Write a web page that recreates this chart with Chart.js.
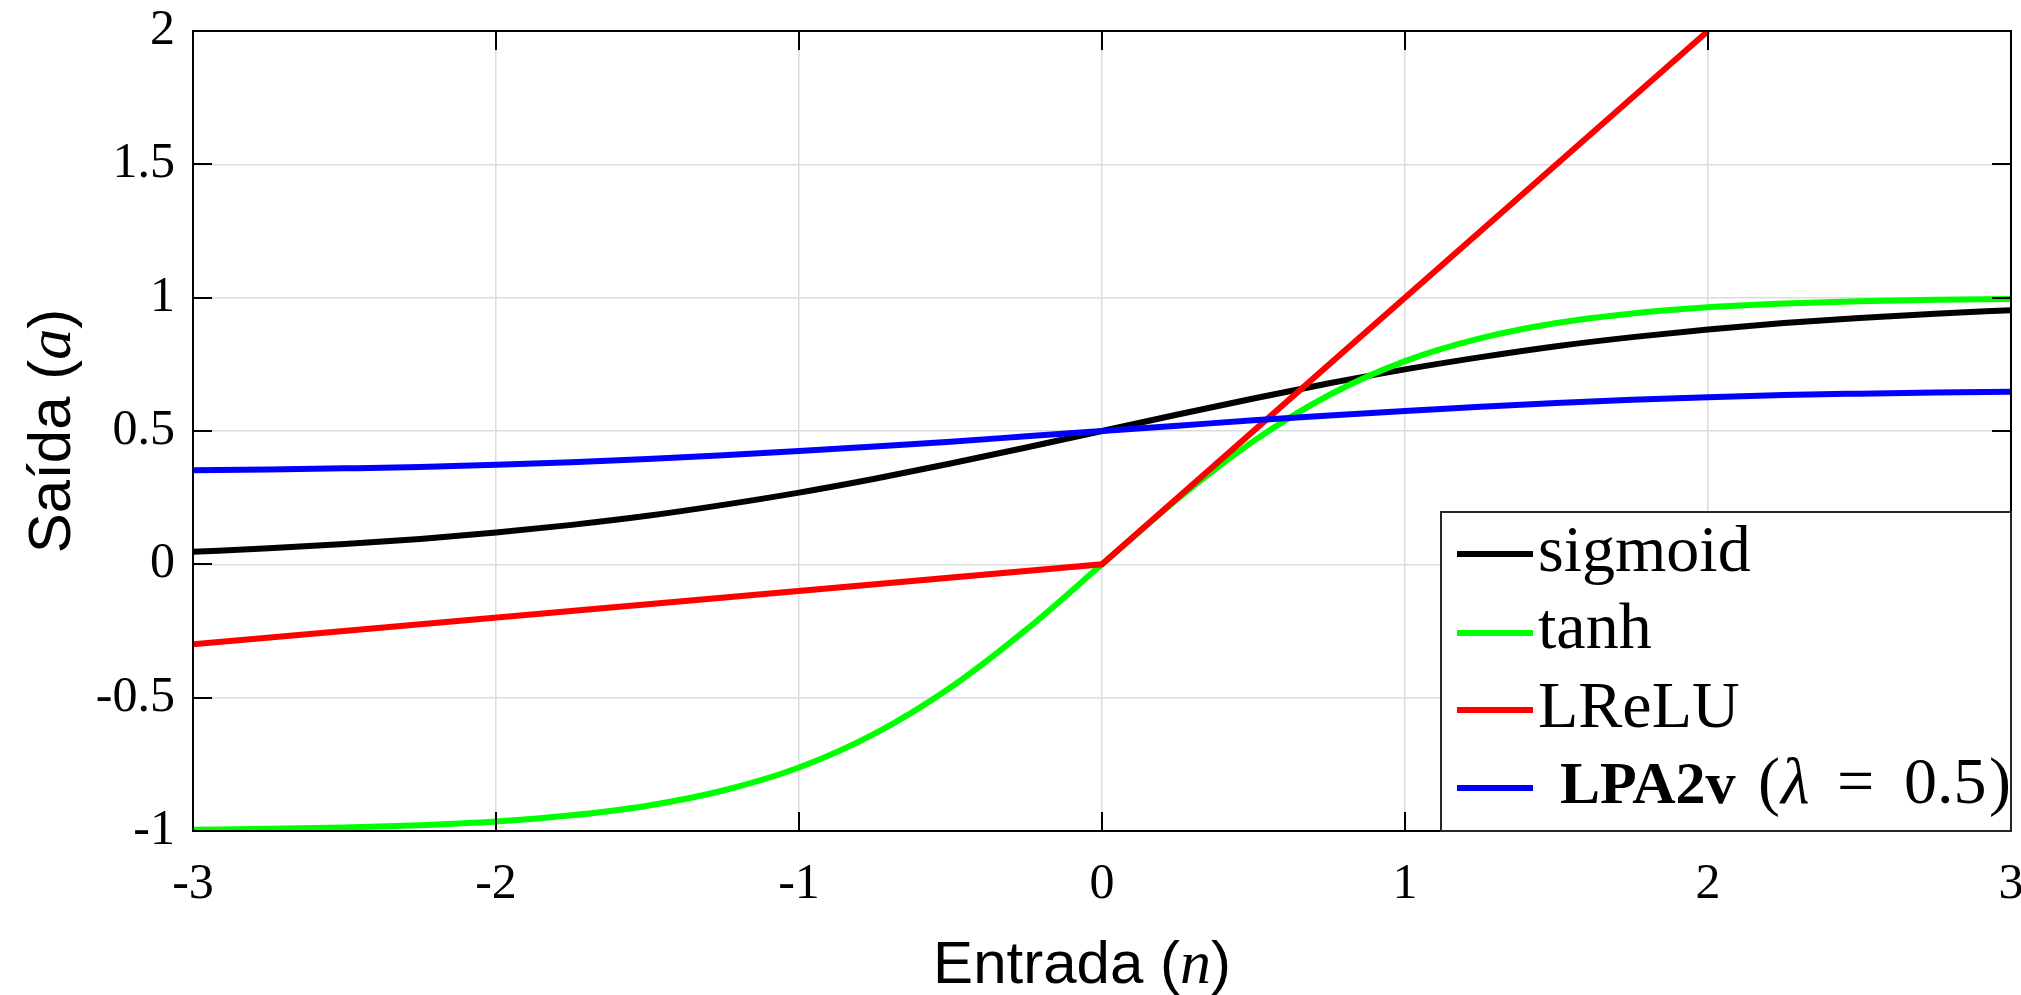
<!DOCTYPE html>
<html>
<head>
<meta charset="utf-8">
<script src="https://cdn.jsdelivr.net/npm/chart.js@4.4.1/dist/chart.umd.min.js"></script>
<style>
  html, body { margin: 0; padding: 0; background: #fff; }
  #wrap { width: 2021px; height: 995px; position: relative; }
</style>
</head>
<body>
<div id="wrap"><canvas id="chart"></canvas></div>
<script>
// input values n
const nValues = [-3, -2.75, -2.5, -2.25, -2, -1.75, -1.5, -1.25, -1, -0.75, -0.5, -0.25, 0,
  0.25, 0.5, 0.75, 1, 1.25, 1.5, 1.75, 2, 2.25, 2.5, 2.75, 3];

// outputs
const sigmoidValues = [0.047, 0.060, 0.076, 0.095, 0.119, 0.148, 0.182, 0.223, 0.269, 0.321, 0.378, 0.438, 0.500,
  0.562, 0.622, 0.679, 0.731, 0.777, 0.818, 0.852, 0.881, 0.905, 0.924, 0.940, 0.953];
const tanhValues = [-0.995, -0.992, -0.987, -0.978, -0.964, -0.941, -0.905, -0.848, -0.762, -0.635, -0.462, -0.245, 0,
  0.245, 0.462, 0.635, 0.762, 0.848, 0.905, 0.941, 0.964, 0.978, 0.987, 0.992, 0.995];
const lpaValues = [0.353, 0.356, 0.360, 0.365, 0.373, 0.383, 0.395, 0.409, 0.425, 0.442, 0.460, 0.480, 0.500,
  0.520, 0.540, 0.558, 0.575, 0.591, 0.605, 0.617, 0.627, 0.635, 0.640, 0.644, 0.647];

// LReLU is piecewise linear: only its corners
const lreluN = [-3, 0, 2];
const lreluValues = [-0.3, 0, 2];

const xTicks = [-3, -2, -1, 0, 1, 2, 3];
const yTicks = [-1, -0.5, 0, 0.5, 1, 1.5, 2];

const seriesNames = ['sigmoid', 'tanh', 'LReLU', 'LPA2v'];
const seriesColors = ['#000000', '#00ff00', '#ff0000', '#0000ff'];

const toPoints = (xs, ys) => xs.map((v, i) => ({ x: v, y: ys[i] }));

const SERIF = '"Liberation Serif", "Times New Roman", serif';
const SANS = '"Liberation Sans", Arial, sans-serif';

// MATLAB-like box, inward ticks, legend and mixed-font axis labels
const figureDecor = {
  id: 'figureDecor',
  afterDatasetsDraw(chart) {
    const { ctx, chartArea: a, scales: { x, y } } = chart;
    ctx.save();

    // inward tick marks
    ctx.strokeStyle = '#000';
    ctx.lineWidth = 2;
    ctx.beginPath();
    xTicks.forEach(v => {
      const px = Math.round(x.getPixelForValue(v));
      ctx.moveTo(px, a.bottom); ctx.lineTo(px, a.bottom - 19);
      ctx.moveTo(px, a.top); ctx.lineTo(px, a.top + 19);
    });
    yTicks.forEach(v => {
      const py = Math.round(y.getPixelForValue(v));
      ctx.moveTo(a.left, py); ctx.lineTo(a.left + 19, py);
      ctx.moveTo(a.right, py); ctx.lineTo(a.right - 19, py);
    });
    ctx.stroke();
    ctx.strokeRect(a.left, a.top, a.right - a.left, a.bottom - a.top);

    // legend box in the lower right corner
    const bw = 570, bh = 319;
    const bx = a.right - bw, by = a.bottom - bh;
    ctx.fillStyle = '#fff';
    ctx.fillRect(bx, by, bw, bh);
    ctx.strokeStyle = '#262626';
    ctx.lineWidth = 2;
    ctx.strokeRect(bx, by, bw, bh);

    const lineY = [42, 121, 198, 276];
    const textY = [59, 136, 215, 291];
    ctx.lineWidth = 6;
    ctx.textBaseline = 'alphabetic';
    ctx.textAlign = 'left';
    seriesNames.forEach((name, i) => {
      ctx.strokeStyle = seriesColors[i];
      ctx.beginPath();
      ctx.moveTo(bx + 16, by + lineY[i]);
      ctx.lineTo(bx + 92, by + lineY[i]);
      ctx.stroke();
      ctx.fillStyle = '#000';
      if (i < 3) {
        ctx.font = `66px ${SERIF}`;
        ctx.fillText(name, bx + 97, by + textY[i]);
      } else {
        ctx.font = `bold 60px ${SERIF}`;
        ctx.fillText(name, bx + 119, by + textY[i]);
        ctx.font = `66px ${SERIF}`;
        ctx.fillText('(', bx + 317, by + textY[i]);
        ctx.font = `italic 66px ${SERIF}`;
        ctx.fillText('λ', bx + 340, by + textY[i]);
        ctx.font = `66px ${SERIF}`;
        ctx.fillText('=', bx + 396, by + textY[i]);
        ctx.fillText('0.5', bx + 463, by + textY[i]);
        ctx.fillText(')', bx + 548, by + textY[i]);
      }
    });

    // axis titles: sans text with italic serif variable
    const drawMixed = (parts, cx, cy) => {
      let total = 0;
      parts.forEach(p => { ctx.font = p.font; total += ctx.measureText(p.t).width; });
      let px = cx - total / 2;
      parts.forEach(p => {
        ctx.font = p.font;
        ctx.fillText(p.t, px, cy);
        px += ctx.measureText(p.t).width;
      });
    };
    ctx.fillStyle = '#000';
    ctx.textAlign = 'left';
    ctx.textBaseline = 'alphabetic';
    drawMixed([
      { t: 'Entrada (', font: `60px ${SANS}` },
      { t: 'n', font: `italic 62px ${SERIF}` },
      { t: ')', font: `60px ${SANS}` }
    ], 1082, 983);

    ctx.translate(70, (a.top + a.bottom) / 2);
    ctx.rotate(-Math.PI / 2);
    drawMixed([
      { t: 'Saída (', font: `60px ${SANS}` },
      { t: 'a', font: `italic 62px ${SERIF}` },
      { t: ')', font: `60px ${SANS}` }
    ], 0, 0);

    ctx.restore();
  }
};

const lineStyle = {
  borderWidth: 6,
  pointRadius: 0,
  pointHoverRadius: 0,
  fill: false,
  borderCapStyle: 'butt',
  cubicInterpolationMode: 'monotone'
};

new Chart(document.getElementById('chart'), {
  type: 'line',
  data: {
    datasets: [
      { label: seriesNames[0], data: toPoints(nValues, sigmoidValues), borderColor: seriesColors[0], order: 4, ...lineStyle },
      { label: seriesNames[1], data: toPoints(nValues, tanhValues), borderColor: seriesColors[1], order: 3, ...lineStyle },
      { label: seriesNames[2], data: toPoints(lreluN, lreluValues), borderColor: seriesColors[2], order: 2, ...lineStyle, cubicInterpolationMode: 'default', tension: 0 },
      { label: seriesNames[3], data: toPoints(nValues, lpaValues), borderColor: seriesColors[3], order: 1, ...lineStyle }
    ]
  },
  options: {
    responsive: true,
    maintainAspectRatio: false,
    animation: false,
    layout: {
      padding: { top: 31, right: 10, left: 0, bottom: 0 }
    },
    plugins: {
      legend: { display: false },
      tooltip: { enabled: false }
    },
    scales: {
      x: {
        type: 'linear',
        min: -3,
        max: 3,
        afterFit: (s) => { s.height = 164; s.paddingLeft = 0; s.paddingRight = 0; },
        afterBuildTicks: (s) => { s.ticks = xTicks.map(v => ({ value: v })); },
        grid: { color: '#dcdcdc', lineWidth: 1.5, drawTicks: false },
        border: { display: false },
        ticks: {
          color: '#000',
          padding: 24,
          maxRotation: 0,
          font: { family: SERIF, size: 50 },
          callback: (v) => String(v)
        }
      },
      y: {
        type: 'linear',
        min: -1,
        max: 2,
        afterFit: (s) => { s.width = 193; s.paddingTop = 0; s.paddingBottom = 0; },
        afterBuildTicks: (s) => { s.ticks = yTicks.map(v => ({ value: v })); },
        grid: { color: '#dcdcdc', lineWidth: 1.5, drawTicks: false },
        border: { display: false },
        ticks: {
          color: '#000',
          padding: 18,
          font: { family: SERIF, size: 50 },
          callback: (v) => String(v)
        }
      }
    }
  },
  plugins: [figureDecor]
});
</script>
</body>
</html>
